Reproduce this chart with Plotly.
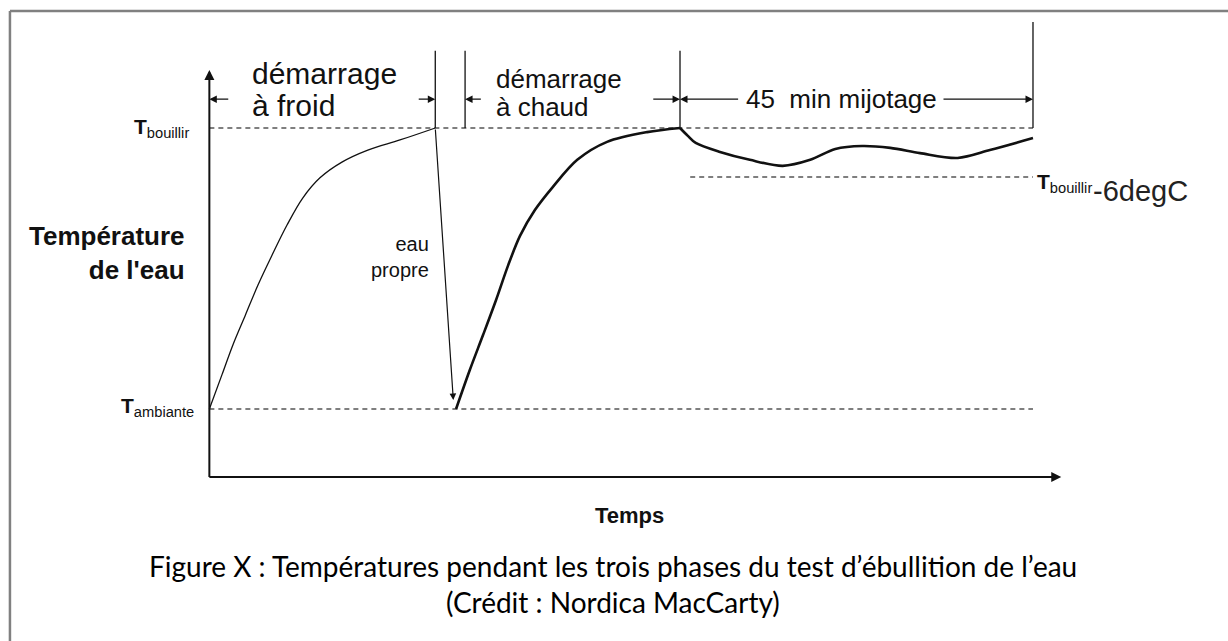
import plotly.graph_objects as go

# ── Data (time in min, temperature in arbitrary °C-like units) ──────────────
T_AMB = 25
T_BOIL = 100
T_LOW = 86.9          # "T bouillir - 6 degC" guide (schematic, not to scale)

cold_time = [0, 1.6, 3.0, 4.6, 6.2, 8.0, 9.9, 11.9, 14.1, 16.9, 20.2, 24.3, 28.8]
cold_temp = [25, 34.1, 42.1, 50.1, 58.1, 66.1, 74.1, 81.3, 86.7, 90.9, 94.1, 96.8, 100]

hot_time = [31.45, 33.2, 34.9, 36.55, 38.1, 39.6, 41.5, 43.8, 46.9, 50.7, 55.8, 60.0]
hot_temp = [25, 35.4, 44.8, 54.1, 63.4, 71.2, 78.1, 84.3, 91.5, 96.3, 98.9, 100]

simmer_time = [60.0, 61.0, 62.0, 65.1, 68.9, 73.1, 76.6, 79.8, 83.2, 86.8, 90.6, 95.4, 99.5, 105.0]
simmer_temp = [100, 97.9, 96.0, 93.6, 91.5, 89.9, 91.5, 94.4, 95.2, 94.7, 93.3, 92.0, 94.1, 97.3]

# clean-water swap: from end of cold start down to ambient
swap_start = (28.8, 100)
swap_end = (31.1, 27.4)

# phase boundaries (min)
phase_marks = [28.8, 32.6, 60.0, 105.0]
phase_tops = [120.6, 120.6, 120.6, 128.3]

# ── Layout helpers ───────────────────────────────────────────────────────────
X_RANGE = [-26.69, 129.86]
Y_RANGE = [-36.92, 134.16]
AXIS_FLOOR = 6.85
X_END = 108.6
Y_TOP = 115.5
ARROW_Y = 107.7

INK = "#111111"
DASH = "#555555"
FONT = "Liberation Sans, Arial, sans-serif"

fig = go.Figure()

# dashed guide lines
for y, x0 in [(T_BOIL, 0), (T_AMB, 0), (T_LOW, 61.3)]:
    fig.add_trace(go.Scatter(
        x=[x0, 105], y=[y, y], mode="lines",
        line=dict(color=DASH, width=1.6, dash="5px,4px"),
        hoverinfo="skip", showlegend=False,
    ))

# cold start curve (thin)
fig.add_trace(go.Scatter(
    x=cold_time, y=cold_temp, mode="lines",
    line=dict(color=INK, width=1.3, shape="spline", smoothing=1.0),
    hoverinfo="skip", showlegend=False,
))

# hot start + simmer curve (thick)
fig.add_trace(go.Scatter(
    x=hot_time, y=hot_temp, mode="lines",
    line=dict(color=INK, width=2.6, shape="spline", smoothing=0.9),
    hoverinfo="skip", showlegend=False,
))
fig.add_trace(go.Scatter(
    x=simmer_time, y=simmer_temp, mode="lines",
    line=dict(color=INK, width=2.6, shape="spline", smoothing=0.9),
    hoverinfo="skip", showlegend=False,
))

# phase boundary verticals
for xm, top in zip(phase_marks, phase_tops):
    fig.add_shape(type="line", x0=xm, x1=xm, y0=T_BOIL, y1=top,
                  line=dict(color=INK, width=1.3))

# axes
fig.add_shape(type="line", x0=0, x1=0, y0=AXIS_FLOOR, y1=Y_TOP - 1,
              line=dict(color=INK, width=2))
fig.add_shape(type="line", x0=0, x1=X_END - 1, y0=AXIS_FLOOR, y1=AXIS_FLOOR,
              line=dict(color=INK, width=2))

annotations = []


def arrow(x, y, ax, ay, width=1.3, size=1.0):
    annotations.append(dict(
        x=x, y=y, ax=ax, ay=ay, xref="x", yref="y", axref="x", ayref="y",
        text="", showarrow=True, arrowhead=2, arrowsize=size,
        arrowwidth=width, arrowcolor=INK,
    ))


# axis arrowheads
arrow(0, Y_TOP, 0, Y_TOP - 3, width=2, size=1.0)
arrow(X_END, AXIS_FLOOR, X_END - 2, AXIS_FLOOR, width=2, size=1.0)

# phase span arrows
arrow(0, ARROW_Y, 2.6, ARROW_Y, size=1.15)
arrow(28.8, ARROW_Y, 26.5, ARROW_Y, size=1.15)
arrow(32.6, ARROW_Y, 34.8, ARROW_Y, size=1.15)
arrow(60.0, ARROW_Y, 56.4, ARROW_Y, size=1.15)
arrow(60.0, ARROW_Y, 67.6, ARROW_Y, size=1.15)
arrow(105.0, ARROW_Y, 93.4, ARROW_Y, size=1.15)

# clean-water swap arrow
arrow(swap_end[0], swap_end[1], swap_start[0], swap_start[1], width=1.2, size=1.1)


def text(x, y, s, size, xanchor="left", bold=False, align="left", color=INK, font=FONT):
    annotations.append(dict(
        x=x, y=y, xref="x", yref="y", text=f"<b>{s}</b>" if bold else s,
        showarrow=False, xanchor=xanchor, yanchor="middle", align=align,
        font=dict(family=font, size=size, color=color),
    ))


text(5.2, 114.6, "démarrage", 30)
text(5.2, 105.9, "à froid", 30)
text(36.3, 113.2, "démarrage", 26)
text(36.3, 105.6, "à chaud", 26)
text(68.1, 107.7, "45\u00a0 min mijotage", 26)

text(-2.4, 100.1, "<b>T</b><sub>bouillir</sub>", 21, xanchor="right", align="right")
text(-1.7, 25.6, "<b>T</b><sub>ambiante</sub>", 21, xanchor="right", align="right")
text(105.3, 85.4, "<b>T</b><sub>bouillir</sub>", 21)
text(112.4, 83.2, "-6degC", 29, color="#222222")

text(-2.8, 66.6, "Température<br>de l'eau", 26, xanchor="right", bold=True, align="right")
text(28.2, 65.7, "eau<br>propre", 20, xanchor="right", align="right")
text(53.6, -3.3, "Temps", 22, xanchor="center", bold=True)

# caption
CAPTION_FONT = "Lato, Open Sans, sans-serif"
for yy, s in [(1 - 566 / 641, "Figure X : Températures pendant les trois phases du test d’ébullition de l’eau"),
              (1 - 602 / 641, "(Crédit : Nordica MacCarty)")]:
    annotations.append(dict(
        x=0.4992, y=yy, xref="paper", yref="paper", text=s, showarrow=False,
        xanchor="center", yanchor="middle",
        font=dict(family=CAPTION_FONT, size=28, color="#000000"),
    ))

# frame (top and left edges of the figure box)
fig.add_shape(type="line", xref="paper", yref="paper", x0=0.0081, x1=1.0,
              y0=0.9828, y1=0.9828, line=dict(color="#808080", width=2.5))
fig.add_shape(type="line", xref="paper", yref="paper", x0=0.0081, x1=0.0081,
              y0=0.0, y1=0.9828, line=dict(color="#808080", width=2.5))

fig.update_layout(
    width=1228,
    height=641,
    margin=dict(l=0, r=0, t=0, b=0),
    plot_bgcolor="white",
    paper_bgcolor="white",
    showlegend=False,
    xaxis=dict(range=X_RANGE, visible=False, domain=[0, 1], fixedrange=True),
    yaxis=dict(range=Y_RANGE, visible=False, domain=[0, 1], fixedrange=True),
    annotations=annotations,
    font=dict(family=FONT, color=INK),
)

fig.write_html(
    "out.html",
    config={"displayModeBar": False},
    post_script="document.body.style.margin='0';",
)
